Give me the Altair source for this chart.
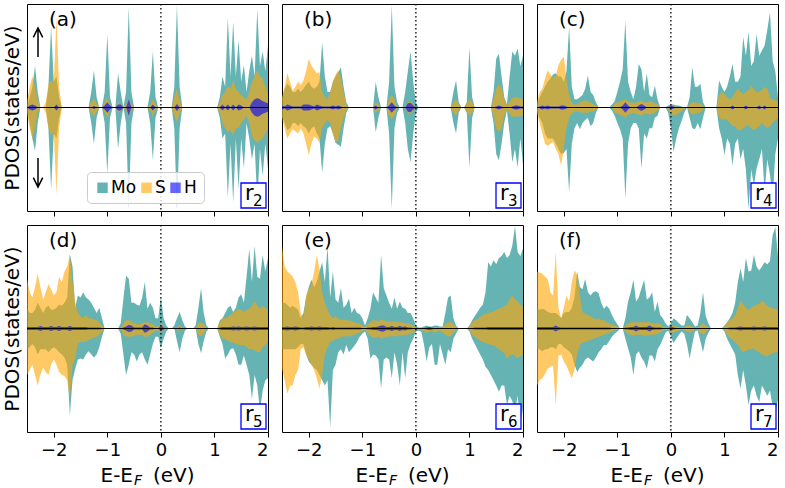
import altair as alt
import pandas as pd

# Energy grid (eV), 0.05 eV step from -2.5 to 2.0
energy = [round(-2.5 + 0.05 * i, 2) for i in range(91)]

species = ["Mo", "S", "H"]
colors = ["teal", "orange", "blue"]

# ---- panel (a): r2 ----
a_mo_up = [0, 1.0, 2.0, 4.0, 1.5, 0, 0, 0, 2.0, 7.8,
           2.5, 3.0, 1.0, 0, 0, 0, 0, 0, 0, 0,
           0, 0, 0, 0, 1.5, 3.6, 1.0, 0, 0, 1.5,
           7.1, 1.0, 0, 0, 3.3, 1.5, 0, 1.5, 9.7, 1.5,
           0, 0, 0, 0, 0, 0, 1.5, 5.4, 1.0, 0,
           0, 0, 0, 0, 0, 2.0, 9.9, 2.0, 0, 0,
           0, 0, 0, 0, 0, 0, 0, 0, 0, 0,
           0, 0, 1.0, 3.0, 2.0, 8.7, 3.0, 8.3, 3.0, 6.5,
           2.5, 4.1, 1.5, 3.5, 5.0, 3.0, 9.5, 4.0, 5.4, 3.5,
           6.0]
a_mo_dn = [0, 1.5, 3.0, 4.2, 1.5, 0, 0, 0, 2.0, 7.9,
           2.5, 3.0, 1.0, 0, 0, 0, 0, 0, 0, 0,
           0, 0, 0, 0, 1.5, 3.5, 1.0, 0, 0, 1.5,
           6.4, 1.0, 0, 0, 4.0, 1.5, 0, 1.5, 9.8, 1.5,
           0, 0, 0, 0, 0, 0, 1.5, 5.1, 1.0, 0,
           0, 0, 0, 0, 0, 2.0, 9.9, 2.0, 0, 0,
           0, 0, 0, 0, 0, 0, 0, 0, 0, 0,
           0, 0, 1.0, 3.0, 2.5, 8.7, 3.5, 9.2, 3.0, 7.9,
           3.0, 5.9, 1.5, 3.0, 5.0, 3.5, 9.2, 4.0, 6.6, 3.5,
           5.9]
a_s_up = [0.5, 2.0, 3.0, 2.0, 0.8, 0, 0, 0.5, 2.2, 2.6,
          2.4, 8.7, 2.0, 0, 0, 0, 0, 0, 0, 0,
          0, 0, 0, 0, 0.5, 0.9, 0.4, 0, 0, 0.5,
          1.0, 0.3, 0, 0, 0.5, 0.3, 0, 0.3, 0.8, 0.3,
          0, 0, 0, 0, 0, 0, 0.3, 0.8, 0.3, 0,
          0, 0, 0, 0, 0, 1.0, 1.8, 0.8, 0, 0,
          0, 0, 0, 0, 0, 0, 0, 0, 0, 0,
          0, 0, 0.5, 1.2, 1.5, 2.1, 1.8, 2.6, 1.8, 1.5,
          1.2, 1.0, 0.8, 1.5, 2.5, 3.0, 3.6, 3.0, 2.8, 2.0,
          1.5]
a_s_dn = [0.5, 2.0, 3.0, 2.0, 0.5, 0, 0, 0.5, 2.0, 2.6,
          2.4, 8.4, 2.0, 0, 0, 0, 0, 0, 0, 0,
          0, 0, 0, 0, 0.5, 0.9, 0.4, 0, 0, 0.5,
          1.0, 0.3, 0, 0, 0.5, 0.3, 0, 0.3, 0.8, 0.3,
          0, 0, 0, 0, 0, 0, 0.3, 0.8, 0.3, 0,
          0, 0, 0, 0, 0, 0.8, 1.4, 0.6, 0, 0,
          0, 0, 0, 0, 0, 0, 0, 0, 0, 0,
          0, 0, 0.5, 1.5, 2.0, 2.4, 2.2, 2.7, 2.0, 2.0,
          1.5, 1.2, 0.8, 1.5, 2.8, 3.2, 3.4, 3.2, 3.0, 2.5,
          2.0]
a_h = [0, 0.2, 0.3, 0.2, 0, 0, 0, 0, 0, 0,
       0, 0.3, 0, 0, 0, 0, 0, 0, 0, 0,
       0, 0, 0, 0, 0, 0.15, 0, 0, 0, 0.2,
       0.5, 0.2, 0, 0, 0.3, 0.3, 0, 0, 0.8, 0,
       0, 0, 0, 0, 0, 0, 0, 0.3, 0, 0,
       0, 0, 0, 0, 0, 0, 0.35, 0, 0, 0,
       0, 0, 0, 0, 0, 0, 0, 0, 0, 0,
       0, 0, 0, 0.3, 0, 0.3, 0, 0.3, 0, 0.3,
       0.2, 0, 0, 0, 0.5, 0.8, 0.9, 0.8, 0.6, 0.5,
       0.4]

# ---- panel (b): r3 ----
b_mo_up = [0.8, 1.8, 2.3, 2.0, 1.5, 1.5, 1.8, 1.5, 1.8, 2.2,
           2.5, 2.0, 1.8, 2.0, 2.5, 6.3, 3.0, 1.5, 1.5, 2.5,
           3.0, 3.4, 3.9, 2.0, 0.5, 0, 0, 0, 0, 0,
           0, 0, 0, 0, 0, 2.5, 1.0, 0, 0, 0,
           2.5, 9.9, 2.0, 0.5, 0, 0, 1.5, 3.5, 5.4, 2.5,
           0.5, 0, 0, 0, 0, 0, 0, 0, 0, 0,
           0, 0, 0, 0, 1.5, 2.6, 0.5, 0, 0, 0.5,
           5.8, 1.0, 0, 0, 0, 0, 0, 0, 0, 1.5,
           4.7, 5.2, 3.0, 1.0, 0.3, 3.0, 5.4, 5.0, 5.7, 4.0,
           5.0]
b_mo_dn = [0.8, 1.5, 2.2, 2.0, 1.5, 1.5, 1.8, 1.5, 1.8, 2.0,
           2.5, 2.0, 1.8, 2.5, 3.0, 6.3, 3.5, 2.0, 1.8, 2.5,
           3.4, 3.6, 3.8, 2.0, 0.5, 0, 0, 0, 0, 0,
           0, 0, 0, 0, 0, 2.4, 1.0, 0, 0, 0,
           2.5, 9.8, 2.0, 0.5, 0, 0, 1.5, 4.0, 5.3, 2.5,
           0.5, 0, 0, 0, 0, 0, 0, 0, 0, 0,
           0, 0, 0, 0, 1.5, 2.5, 0.5, 0, 0, 0.5,
           5.8, 1.0, 0, 0, 0, 0, 0, 0, 0, 1.5,
           4.5, 5.1, 3.5, 1.5, 0.3, 2.5, 5.3, 4.0, 5.8, 3.0,
           5.5]
b_s_up = [1.0, 2.0, 3.3, 2.5, 1.6, 2.0, 2.5, 2.2, 2.6, 3.5,
          4.7, 4.0, 3.7, 3.3, 3.4, 1.5, 1.0, 0.8, 1.5, 2.5,
          3.2, 3.6, 2.8, 1.5, 0.3, 0, 0, 0, 0, 0,
          0, 0, 0, 0, 0, 0.5, 0.3, 0, 0, 0,
          0.8, 1.2, 0.8, 0, 0, 0, 0, 0.5, 0.6, 0.3,
          0, 0, 0, 0, 0, 0, 0, 0, 0, 0,
          0, 0, 0, 0, 0.5, 0.8, 0.3, 0, 0, 0.4,
          0.8, 0.5, 0, 0, 0, 0, 0, 0, 0, 0.8,
          1.8, 2.3, 1.8, 0.8, 0.2, 0.6, 0.9, 1.0, 1.0, 0.9,
          0.8]
b_s_dn = [1.0, 2.0, 3.0, 2.5, 2.1, 2.3, 2.5, 2.0, 2.5, 3.5,
          4.6, 3.5, 2.8, 3.0, 3.4, 2.0, 1.5, 1.2, 1.5, 2.5,
          3.4, 3.2, 2.0, 1.0, 0.3, 0, 0, 0, 0, 0,
          0, 0, 0, 0, 0, 0.5, 0.3, 0, 0, 0,
          0.8, 1.1, 0.8, 0, 0, 0, 0, 0.5, 0.6, 0.3,
          0, 0, 0, 0, 0, 0, 0, 0, 0, 0,
          0, 0, 0, 0, 0.5, 0.8, 0.3, 0, 0, 0.4,
          0.8, 0.5, 0, 0, 0, 0, 0, 0, 0, 0.8,
          2.0, 2.4, 2.0, 0.8, 0.2, 0.6, 0.9, 0.9, 0.9, 0.8,
          0.8]
b_h = [0.2, 0.1, 0.3, 0.2, 0.1, 0.1, 0.1, 0.1, 0.3, 0.3,
       0.3, 0.2, 0.1, 0.3, 0.2, 0.1, 0.1, 0.1, 0.1, 0.2,
       0.1, 0.2, 0.1, 0, 0, 0, 0, 0, 0, 0,
       0, 0, 0, 0, 0, 0.2, 0, 0, 0, 0,
       0.2, 0.5, 0.2, 0, 0, 0, 0, 0.4, 0.45, 0.2,
       0, 0, 0, 0, 0, 0, 0, 0, 0, 0,
       0, 0, 0, 0, 0, 0, 0, 0, 0, 0,
       0, 0, 0, 0, 0, 0, 0, 0, 0, 0,
       0.1, 0.2, 0.1, 0, 0, 0, 0.1, 0.2, 0.2, 0.1,
       0.1]

# ---- panel (c): r4 ----
c_mo_up = [0.3, 1.0, 1.5, 2.0, 2.5, 2.8, 3.2, 3.3, 3.0, 3.0,
           2.5, 3.5, 7.8, 2.0, 0.8, 0.8, 1.0, 1.2, 1.8, 3.1,
           1.5, 1.2, 0.5, 0, 0, 0, 0, 0, 0.3, 0.6,
           1.5, 2.5, 3.7, 8.4, 2.5, 1.5, 0.8, 2.0, 4.2, 3.7,
           1.5, 3.3, 1.2, 1.0, 2.1, 0.8, 0, 0, 0, 0.2,
           0.3, 0.3, 0.2, 0.2, 0.1, 0, 0, 1.0, 3.9, 2.0,
           2.0, 2.3, 0.5, 0, 0, 0, 0, 0, 2.6, 2.0,
           1.5, 2.0, 3.0, 4.2, 2.5, 2.5, 3.0, 6.8, 5.0, 7.3,
           4.0, 4.5, 7.1, 5.0, 5.5, 6.0, 7.5, 9.2, 4.5, 3.5,
           1.0]
c_mo_dn = [0.3, 1.0, 1.5, 2.5, 3.0, 3.0, 3.0, 3.5, 4.0, 4.5,
           4.4, 4.0, 8.2, 3.5, 2.0, 1.5, 2.1, 1.5, 1.2, 1.0,
           1.8, 1.5, 0.5, 0, 0, 0, 0, 0, 0.3, 0.8,
           1.5, 2.1, 3.0, 8.8, 3.5, 2.0, 1.5, 1.5, 2.0, 5.9,
           2.5, 3.0, 2.0, 2.0, 1.0, 0.8, 0, 0, 0, 0.5,
           2.0, 4.3, 3.0, 2.0, 1.3, 0.5, 0, 1.0, 2.0, 2.1,
           1.5, 2.1, 1.0, 0, 0, 0, 0, 0, 2.0, 3.0,
           4.6, 3.0, 3.5, 5.6, 3.5, 3.0, 5.0, 4.0, 6.0, 9.8,
           6.0, 7.5, 5.9, 5.0, 4.0, 8.2, 5.0, 6.5, 8.8, 4.5,
           3.0]
c_s_up = [0.5, 1.5, 1.8, 2.8, 3.6, 3.2, 2.9, 3.0, 4.1, 4.6,
          4.9, 2.8, 1.2, 0.5, 0.3, 0.3, 0.5, 0.6, 0.7, 0.6,
          0.5, 0.3, 0.2, 0, 0, 0, 0, 0, 0, 0.4,
          0.5, 0.6, 0.7, 0.8, 0.6, 0.5, 0.4, 0.5, 0.6, 0.7,
          0.5, 0.5, 0.6, 0.5, 0.4, 0.3, 0, 0, 0, 0,
          0.2, 0.2, 0, 0, 0, 0, 0, 0.3, 0.5, 0.5,
          0.4, 0.4, 0.2, 0, 0, 0, 0, 0, 1.2, 1.5,
          1.3, 1.0, 0.8, 1.0, 1.5, 1.8, 1.5, 1.3, 1.5, 1.7,
          2.1, 1.8, 1.5, 1.5, 1.7, 2.0, 1.8, 1.0, 0.8, 0.7,
          0.6]
c_s_dn = [0.5, 1.5, 2.5, 3.5, 3.7, 3.5, 3.3, 4.0, 4.5, 5.6,
          4.0, 2.0, 1.0, 0.6, 0.4, 0.4, 0.4, 0.5, 0.5, 0.5,
          0.4, 0.4, 0.2, 0, 0, 0, 0, 0, 0, 0.5,
          0.6, 0.7, 0.8, 1.0, 0.7, 0.6, 0.5, 0.6, 0.7, 0.8,
          0.6, 0.6, 0.7, 0.6, 0.5, 0.3, 0, 0, 0, 0.2,
          0.5, 0.8, 0.7, 0.5, 0.4, 0.1, 0, 0.4, 0.7, 0.6,
          0.5, 0.5, 0.2, 0, 0, 0, 0, 0, 1.0, 1.2,
          1.1, 1.2, 1.5, 1.8, 1.8, 2.2, 2.2, 2.0, 1.8, 1.7,
          2.0, 2.2, 2.0, 1.8, 1.5, 1.8, 2.0, 1.8, 1.5, 1.2,
          1.0]
c_h = [0, 0.1, 0.2, 0.1, 0.2, 0.1, 0.1, 0.1, 0.1, 0.2,
       0.2, 0.1, 0, 0, 0, 0, 0, 0, 0, 0,
       0, 0, 0, 0, 0, 0, 0, 0, 0, 0,
       0, 0, 0.2, 0.5, 0.2, 0, 0, 0, 0.2, 0.35,
       0.2, 0, 0, 0, 0, 0, 0, 0, 0, 0,
       0.2, 0.1, 0, 0, 0, 0, 0, 0, 0, 0,
       0, 0, 0, 0, 0, 0, 0, 0, 0, 0,
       0, 0, 0, 0.2, 0, 0, 0, 0, 0.2, 0,
       0, 0, 0, 0.2, 0, 0.2, 0, 0, 0, 0,
       0]

# ---- panel (d): r5 ----
d_mo_up = [1.9, 1.5, 1.5, 1.8, 2.5, 2.0, 1.5, 2.0, 2.2, 1.8,
           1.8, 2.0, 2.3, 2.2, 2.5, 3.0, 7.2, 6.0, 2.0, 3.2,
           3.0, 3.5, 3.0, 2.8, 2.5, 2.0, 1.5, 2.0, 1.0, 0,
           0, 0, 0, 0, 0, 0.5, 2.9, 5.1, 4.8, 2.5,
           2.5, 2.3, 2.2, 3.0, 4.5, 1.9, 2.5, 2.0, 1.0, 1.0,
           3.1, 1.0, 0.3, 0, 0, 0.3, 1.0, 1.6, 0.8, 0.2,
           0, 0, 0, 0.3, 2.0, 3.9, 1.5, 0.3, 0, 0,
           0, 0, 0.8, 1.0, 1.5, 2.0, 2.2, 1.6, 2.0, 3.0,
           3.3, 2.5, 5.0, 7.7, 4.5, 8.0, 5.0, 4.8, 7.1, 5.5,
           6.8]
d_mo_dn = [2.0, 1.8, 1.5, 1.8, 2.5, 2.0, 2.0, 2.0, 2.3, 2.0,
           1.8, 2.0, 2.3, 2.5, 2.8, 3.5, 8.4, 5.0, 3.9, 3.0,
           2.9, 3.0, 2.5, 2.2, 2.5, 2.8, 2.5, 1.8, 0.8, 0,
           0, 0, 0, 0, 0, 0.5, 2.5, 4.5, 3.5, 2.3,
           2.5, 3.2, 2.5, 2.3, 3.0, 3.5, 2.5, 1.5, 0.8, 0.8,
           1.9, 1.0, 0.3, 0, 0, 0, 1.2, 2.3, 1.0, 0.2,
           0, 0, 0, 0, 1.5, 2.4, 1.2, 0.3, 0, 0,
           0, 0, 0.8, 1.5, 2.9, 2.5, 2.0, 1.9, 2.5, 3.5,
           3.5, 2.6, 3.5, 4.5, 6.8, 4.5, 5.5, 8.0, 6.0, 5.0,
           4.8]
d_s_up = [4.8, 3.5, 3.0, 4.0, 5.3, 4.0, 2.8, 3.5, 4.3, 3.8,
          3.2, 3.5, 5.0, 4.5, 5.5, 6.0, 7.1, 4.5, 2.6, 1.5,
          1.2, 1.0, 1.3, 1.0, 1.0, 0.9, 0.8, 0.6, 0.3, 0,
          0, 0, 0, 0, 0, 0, 0.5, 0.8, 0.8, 0.7,
          0.5, 0.4, 0.4, 0.5, 0.6, 0.6, 0.5, 0.4, 0.2, 0.2,
          0.4, 0.2, 0, 0, 0, 0, 0.1, 0.3, 0.1, 0,
          0, 0, 0, 0, 0.5, 0.6, 0.5, 0.1, 0, 0,
          0, 0, 0.6, 1.0, 1.0, 1.1, 1.3, 1.6, 1.7, 1.9,
          1.8, 1.6, 1.8, 1.9, 2.2, 2.6, 2.2, 1.9, 2.2, 2.0,
          1.8]
d_s_dn = [4.5, 4.0, 3.5, 4.5, 5.5, 4.5, 3.8, 4.2, 4.5, 3.5,
          3.0, 3.5, 4.2, 4.5, 4.6, 5.0, 6.8, 3.5, 2.9, 1.5,
          1.3, 1.3, 1.3, 1.1, 1.0, 0.9, 0.8, 0.6, 0.3, 0,
          0, 0, 0, 0, 0, 0, 0.6, 0.8, 0.8, 0.8,
          0.7, 0.6, 0.6, 0.6, 0.8, 0.8, 0.6, 0.4, 0.2, 0.2,
          0.4, 0.2, 0, 0, 0, 0, 0.1, 0.3, 0.1, 0,
          0, 0, 0, 0, 0.6, 0.7, 0.5, 0.1, 0, 0,
          0, 0, 0.6, 1.0, 1.0, 1.2, 1.3, 1.4, 1.5, 1.6,
          1.6, 1.6, 1.8, 2.0, 2.0, 2.1, 2.3, 2.3, 1.8, 1.6,
          1.3]
d_h = [0.15, 0.15, 0.15, 0.15, 0.15, 0.25, 0.15, 0.15, 0.15, 0.25,
       0.15, 0.15, 0.25, 0.15, 0.15, 0.15, 0.25, 0.15, 0.15, 0.15,
       0.15, 0.15, 0.15, 0.1, 0.1, 0.1, 0.1, 0.1, 0.05, 0,
       0, 0, 0, 0, 0, 0, 0.1, 0.2, 0.35, 0.3,
       0.1, 0.1, 0.1, 0.1, 0.4, 0.3, 0.1, 0.1, 0, 0,
       0.3, 0.1, 0, 0, 0, 0, 0, 0.1, 0, 0,
       0, 0, 0, 0, 0, 0, 0, 0, 0, 0,
       0, 0, 0.1, 0.15, 0.15, 0.15, 0.15, 0.2, 0.15, 0.2,
       0.15, 0.15, 0.2, 0.15, 0.15, 0.2, 0.15, 0.15, 0.15, 0.15,
       0.15]

# ---- panel (e): r6 ----
e_mo_up = [2.5, 2.5, 2.3, 2.0, 2.2, 2.0, 1.8, 1.0, 1.5, 3.0,
           4.0, 4.7, 4.0, 4.5, 5.5, 6.4, 4.5, 7.9, 3.0, 5.5,
           2.8, 2.5, 3.9, 2.0, 2.3, 2.9, 1.5, 2.0, 1.5, 1.4,
           1.0, 0.3, 1.0, 1.9, 3.5, 3.0, 2.5, 7.1, 3.9, 3.2,
           2.5, 1.9, 3.0, 1.9, 2.6, 2.0, 1.9, 1.5, 1.5, 1.0,
           0.3, 0.1, 0.1, 0.2, 0.3, 0.2, 0.2, 0.3, 0.3, 0.2,
           0.2, 1.5, 3.0, 3.2, 1.0, 0.3, 0, 0, 0, 0,
           0.3, 0.8, 1.2, 1.6, 2.0, 2.3, 3.5, 6.4, 6.0, 6.6,
           6.2, 6.8, 7.0, 7.4, 6.8, 7.1, 8.0, 9.9, 7.4, 7.0,
           7.7]
e_mo_dn = [2.0, 2.0, 2.0, 2.0, 2.0, 2.0, 1.8, 1.5, 1.5, 2.5,
           3.2, 3.5, 3.8, 4.0, 4.5, 5.0, 5.5, 5.0, 9.6, 4.0,
           3.5, 2.3, 2.0, 2.5, 1.6, 2.3, 2.0, 1.7, 1.3, 0.8,
           0.5, 0.3, 1.0, 2.9, 2.5, 2.6, 3.0, 5.8, 3.0, 2.8,
           3.0, 4.8, 2.3, 3.5, 5.5, 2.3, 4.8, 2.3, 1.5, 1.0,
           0.3, 0.2, 0.3, 1.5, 3.2, 1.8, 1.5, 3.5, 3.5, 1.5,
           2.5, 3.5, 2.0, 2.3, 1.0, 0.5, 0, 0, 0, 0,
           0.3, 1.0, 1.5, 2.0, 2.5, 3.0, 3.7, 4.0, 4.5, 5.0,
           5.5, 6.1, 5.5, 5.5, 7.4, 6.5, 7.0, 8.0, 6.5, 9.3,
           7.7]
e_s_up = [8.0, 6.0, 5.5, 5.3, 5.0, 4.5, 3.5, 1.5, 1.0, 3.2,
          3.8, 4.3, 5.5, 7.1, 5.8, 3.5, 2.5, 1.8, 1.3, 1.0,
          1.2, 1.0, 0.8, 0.9, 0.8, 0.8, 0.7, 0.6, 0.5, 0.5,
          0.3, 0.1, 0.4, 0.6, 0.8, 0.8, 0.7, 0.9, 0.8, 0.7,
          0.7, 0.6, 0.7, 0.6, 0.6, 0.6, 0.5, 0.5, 0.4, 0.3,
          0.1, 0, 0, 0.1, 0.1, 0.1, 0.1, 0.1, 0.1, 0.1,
          0.2, 0.4, 0.6, 0.6, 0.4, 0.2, 0, 0, 0, 0,
          0.2, 0.6, 0.8, 0.9, 1.1, 1.3, 1.4, 1.5, 1.6, 1.6,
          1.8, 1.9, 2.0, 2.2, 2.3, 2.8, 3.2, 2.8, 2.6, 2.3,
          2.2]
e_s_dn = [3.9, 5.0, 6.3, 5.5, 5.5, 4.5, 4.0, 2.0, 1.8, 2.5,
          3.0, 3.5, 4.0, 4.8, 5.8, 4.5, 2.5, 1.8, 1.3, 1.2,
          1.0, 1.0, 0.8, 0.8, 0.7, 0.8, 0.7, 0.6, 0.5, 0.4,
          0.3, 0.1, 0.5, 0.7, 0.9, 0.9, 0.8, 1.0, 0.9, 0.8,
          0.8, 0.7, 0.8, 0.7, 0.7, 0.7, 0.6, 0.6, 0.5, 0.4,
          0.1, 0, 0.1, 0.3, 0.4, 0.3, 0.2, 0.4, 0.3, 0.2,
          0.4, 0.6, 0.8, 0.7, 0.4, 0.2, 0, 0, 0, 0,
          0.2, 0.6, 0.8, 1.0, 1.2, 1.3, 1.4, 1.5, 1.6, 1.6,
          1.8, 2.0, 2.2, 2.4, 2.9, 2.6, 2.5, 2.6, 2.9, 2.7,
          2.5]
e_h = [0.15, 0.15, 0.2, 0.15, 0.15, 0.2, 0.15, 0.1, 0.1, 0.15,
       0.15, 0.2, 0.15, 0.15, 0.2, 0.15, 0.15, 0.15, 0.1, 0.15,
       0.1, 0.1, 0.1, 0.1, 0.1, 0.1, 0.1, 0.1, 0.1, 0.1,
       0.05, 0, 0.1, 0.1, 0.15, 0.15, 0.2, 0.3, 0.3, 0.15,
       0.15, 0.25, 0.15, 0.15, 0.25, 0.15, 0.2, 0.1, 0.1, 0.05,
       0, 0, 0, 0.05, 0.1, 0.15, 0.1, 0.05, 0.05, 0,
       0, 0, 0.05, 0.05, 0, 0, 0, 0, 0, 0,
       0, 0.05, 0.1, 0.1, 0.1, 0.1, 0.1, 0.15, 0.15, 0.15,
       0.15, 0.15, 0.15, 0.15, 0.15, 0.15, 0.15, 0.15, 0.15, 0.15,
       0.15]

# ---- panel (f): r7 ----
f_mo_up = [1.9, 1.8, 1.9, 1.8, 1.6, 1.5, 1.5, 1.5, 1.3, 1.0,
           1.5, 1.6, 1.6, 2.0, 3.0, 5.5, 4.0, 3.8, 4.8, 3.5,
           3.2, 3.5, 3.6, 3.4, 2.5, 1.9, 2.2, 1.9, 1.3, 0.8,
           0.4, 0, 0, 1.0, 2.6, 3.5, 4.7, 2.6, 3.0, 3.9,
           4.7, 2.8, 3.0, 3.5, 1.6, 2.6, 1.3, 1.0, 0.5, 0.2,
           0.5, 1.0, 0.8, 0.5, 0.3, 0.3, 1.3, 1.0, 0.6, 0.2,
           0.3, 1.5, 3.5, 1.2, 0.5, 0, 0, 0, 0, 0,
           0.3, 0.6, 1.0, 1.5, 2.5, 4.5, 5.8, 4.5, 6.8, 5.5,
           5.6, 7.1, 6.0, 5.6, 6.0, 6.4, 6.2, 6.5, 9.0, 9.8,
           7.0]
f_mo_dn = [2.0, 2.0, 2.2, 2.0, 2.0, 1.8, 1.8, 2.0, 1.5, 1.5,
           1.8, 2.0, 2.2, 2.5, 3.5, 4.2, 3.8, 3.5, 3.0, 2.8,
           3.0, 3.2, 2.8, 2.3, 2.0, 1.6, 1.6, 1.2, 0.8, 0.5,
           0.3, 0, 0, 1.0, 1.9, 2.8, 4.5, 2.5, 2.2, 2.8,
           3.2, 3.9, 2.6, 2.6, 3.2, 2.0, 1.6, 1.0, 0.4, 0.2,
           0.8, 1.4, 1.0, 0.6, 0.3, 0.5, 1.5, 2.9, 1.5, 0.3,
           0.2, 1.2, 2.3, 1.0, 0.4, 0, 0, 0, 0, 0,
           0.3, 1.0, 1.5, 2.0, 2.5, 4.5, 5.8, 4.0, 5.5, 7.4,
           6.0, 5.5, 6.5, 7.1, 5.5, 6.0, 6.5, 6.0, 7.5, 8.4,
           6.8]
f_s_up = [5.5, 5.4, 5.3, 5.0, 4.8, 3.5, 3.2, 7.4, 2.0, 1.0,
          2.0, 3.2, 2.6, 4.5, 5.6, 5.2, 3.2, 1.6, 1.4, 1.3,
          1.2, 1.0, 0.9, 1.0, 0.8, 0.8, 0.6, 0.5, 0.4, 0.3,
          0.2, 0, 0, 0.3, 0.5, 0.6, 0.6, 0.6, 0.6, 0.6,
          0.6, 0.6, 0.6, 0.5, 0.5, 0.5, 0.4, 0.2, 0.1, 0.1,
          0.3, 0.3, 0.2, 0.1, 0.1, 0.1, 0.3, 0.3, 0.2, 0.1,
          0.1, 0.3, 0.5, 0.3, 0.1, 0, 0, 0, 0, 0,
          0.2, 0.6, 0.8, 1.0, 1.3, 2.0, 2.7, 2.3, 2.0, 1.8,
          2.0, 2.2, 2.3, 2.4, 2.7, 2.5, 2.2, 2.0, 2.0, 1.9,
          1.8]
f_s_dn = [5.5, 5.0, 4.8, 4.4, 3.9, 3.7, 3.6, 7.4, 2.6, 2.5,
          3.2, 3.6, 4.2, 4.8, 4.0, 2.5, 1.6, 1.4, 1.3, 1.2,
          1.1, 1.0, 0.9, 0.8, 0.7, 0.6, 0.5, 0.4, 0.3, 0.2,
          0.1, 0, 0, 0.3, 0.5, 0.6, 0.7, 0.6, 0.6, 0.6,
          0.7, 0.7, 0.6, 0.6, 0.6, 0.5, 0.4, 0.2, 0.1, 0.1,
          0.4, 0.4, 0.3, 0.2, 0.1, 0.2, 0.3, 0.4, 0.3, 0.1,
          0.1, 0.4, 0.6, 0.4, 0.1, 0, 0, 0, 0, 0,
          0.2, 0.6, 0.9, 1.1, 1.3, 1.6, 2.0, 2.3, 2.2, 2.0,
          2.0, 1.9, 2.2, 2.3, 2.5, 2.6, 2.7, 2.5, 2.4, 2.3,
          2.3]
f_h = [0.15, 0.15, 0.15, 0.15, 0.15, 0.15, 0.15, 0.3, 0.15, 0.1,
       0.1, 0.1, 0.1, 0.1, 0.1, 0.1, 0.1, 0.1, 0.1, 0.1,
       0.1, 0.1, 0.1, 0.1, 0.1, 0.1, 0.1, 0.1, 0.05, 0.05,
       0, 0, 0, 0.1, 0.1, 0.15, 0.15, 0.3, 0.15, 0.15,
       0.15, 0.15, 0.3, 0.15, 0.1, 0.1, 0.1, 0.05, 0, 0,
       0.2, 0.1, 0.05, 0, 0, 0, 0.05, 0.05, 0, 0,
       0, 0.05, 0.05, 0, 0, 0, 0, 0, 0, 0,
       0, 0.05, 0.1, 0.1, 0.1, 0.15, 0.2, 0.15, 0.15, 0.15,
       0.15, 0.2, 0.15, 0.15, 0.15, 0.2, 0.15, 0.15, 0.15, 0.15,
       0.15]

panels = [
    ("a", "2", a_mo_up, a_mo_dn, a_s_up, a_s_dn, a_h),
    ("b", "3", b_mo_up, b_mo_dn, b_s_up, b_s_dn, b_h),
    ("c", "4", c_mo_up, c_mo_dn, c_s_up, c_s_dn, c_h),
    ("d", "5", d_mo_up, d_mo_dn, d_s_up, d_s_dn, d_h),
    ("e", "6", e_mo_up, e_mo_dn, e_s_up, e_s_dn, e_h),
    ("f", "7", f_mo_up, f_mo_dn, f_s_up, f_s_dn, f_h),
]

# Long table: spin-up drawn above zero, spin-down mirrored below
records = []
for key, _, mo_up, mo_dn, s_up, s_dn, h in panels:
    for sp, up, dn in (("Mo", mo_up, mo_dn), ("S", s_up, s_dn), ("H", h, h)):
        assert len(up) == len(energy) and len(dn) == len(energy)
        for e, u, d in zip(energy, up, dn):
            records.append({"panel": key, "species": sp, "E": e, "up": u, "down": -d})
df = pd.DataFrame(records)

FONT = "DejaVu Sans"
W, H = 241, 207

color = alt.Color(
    "species:N",
    scale=alt.Scale(domain=species, range=colors),
    legend=alt.Legend(title=None),
)


def one(**cols):
    return pd.DataFrame({k: [v] for k, v in cols.items()})


def text(t, x, y, size=20, align="left", baseline="alphabetic", italic=False):
    kw = dict(font=FONT, fontSize=size, align=align, baseline=baseline, color="black")
    if italic:
        kw["fontStyle"] = "italic"
    return alt.Chart(one(t=t)).mark_text(**kw).encode(
        x=alt.value(x), y=alt.value(y), text="t:N")


def arrow(path, x, y):
    # open-headed arrow drawn as a single stroked symbol anchored at its tip
    return alt.Chart(one(v=0)).mark_point(
        shape=path, size=88, filled=False, stroke="black", strokeWidth=1.5, opacity=1
    ).encode(x=alt.value(x), y=alt.value(y))


def panel(key, sub, bottom, left):
    xaxis = alt.Axis(values=[-2, -1, 0, 1, 2], format="d", labels=bottom, title=None,
                     grid=False, domain=False, ticks=True, tickSize=5, tickColor="black",
                     tickWidth=1, labelFontSize=18, labelColor="black", labelFont=FONT,
                     labelPadding=4)
    if left:
        yaxis = alt.Axis(title="PDOS(states/eV)", labels=False, ticks=False, domain=False,
                         grid=False, titleFontSize=20, titleFont=FONT,
                         titleFontWeight="normal", titleColor="black", titlePadding=5)
    else:
        yaxis = None
    x = alt.X("E:Q", scale=alt.Scale(domain=[-2.5, 2.0], nice=False, zero=False), axis=xaxis)
    y = alt.Y("up:Q", stack=None, scale=alt.Scale(domain=[-10, 10], nice=False), axis=yaxis)

    base = alt.Chart(df).transform_filter(alt.datum.panel == key)
    layers = []
    for sp in species:
        layers.append(
            base.transform_filter(alt.datum.species == sp)
            .mark_area(opacity=0.6, interpolate="linear", clip=True)
            .encode(x=x, y=y, y2="down:Q", color=color)
        )
    layers.append(alt.Chart(one(v=0)).mark_rule(color="black", strokeWidth=1)
                  .encode(y=alt.datum(0)))
    # Fermi level
    layers.append(alt.Chart(one(v=0)).mark_rule(color="black", strokeWidth=1.3,
                                                strokeDash=[1.5, 2.5])
                  .encode(x=alt.datum(0)))
    layers.append(text(f"({key})", 22, 16, baseline="middle"))
    # structure label box
    layers.append(alt.Chart(one(v=0)).mark_rect(fill="white", stroke="blue", strokeWidth=1.3)
                  .encode(x=alt.value(214), x2=alt.value(239), y=alt.value(179),
                          y2=alt.value(204)))
    layers.append(text("r", 218, 196, size=21))
    layers.append(text(sub, 226, 202, size=15))
    if key == "a":
        layers.append(arrow("M0,0L0,6.2M-1,2L0,0L1,2", 11, 24))
        layers.append(arrow("M0,0L0,-6.2M-1,-2L0,0L1,-2", 11, 183))
    if bottom:
        layers.append(text("E-E", 106, 257, align="right"))
        layers.append(text("F", 107, 260, size=14, italic=True))
        layers.append(text("(eV)", 126, 257))
    return alt.layer(*layers).properties(width=W, height=H)


grid = [panel("a", "2", False, True), panel("b", "3", False, False),
        panel("c", "4", False, False), panel("d", "5", True, True),
        panel("e", "6", True, False), panel("f", "7", True, False)]

chart = (
    alt.concat(*grid, columns=3, spacing=14, bounds="flush")
    .properties(padding={"left": 1, "top": 2, "right": 0, "bottom": 10})
    .configure(font=FONT)
    .configure_view(stroke="black", strokeWidth=1)
    .configure_legend(
        orient="none", legendX=60, legendY=168, direction="horizontal",
        symbolType="square", symbolSize=110, symbolOpacity=0.6,
        symbolStrokeWidth=0, labelFont=FONT, labelFontSize=17, labelColor="black",
        labelOffset=0, columnPadding=1, padding=7, cornerRadius=4,
        fillColor="rgba(255,255,255,0.8)", strokeColor="#cccccc",
    )
)

chart.save("out.html", embed_options={"renderer": "svg", "actions": False})
